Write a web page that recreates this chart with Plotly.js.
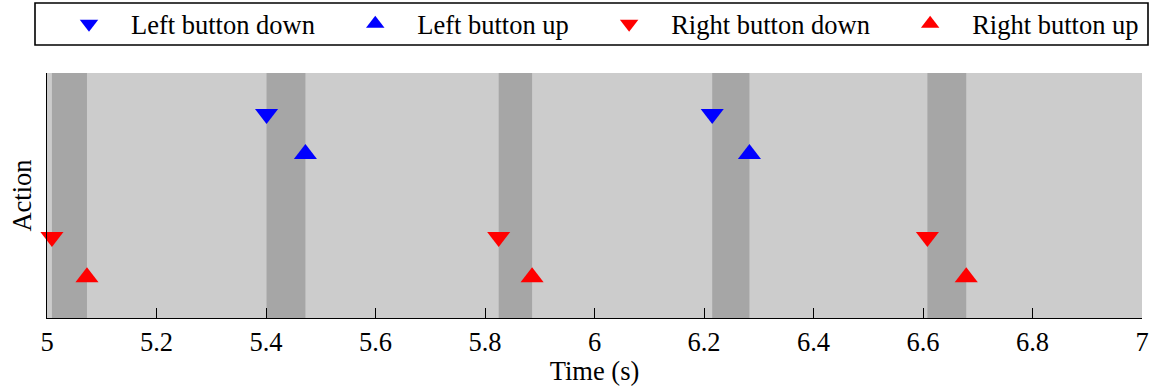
<!DOCTYPE html>
<html><head><meta charset="utf-8">
<script src="https://cdn.plot.ly/plotly-3.0.1.min.js"></script>
<style>html,body{margin:0;padding:0;background:#fff}#chart{width:1155px;height:386px}</style>
</head><body><div id="chart"></div>
<script>
// ---- data ----
const seriesNames = ['Left button down', 'Left button up', 'Right button down', 'Right button up'];
const leftDownTimes = [5.401, 6.215];
const leftUpTimes = [5.472, 6.283];
const rightDownTimes = [5.009, 5.825, 6.608];
const rightUpTimes = [5.073, 5.886, 6.679];
// vertical level of each action row (axis is hidden, 0..1)
const actionLevels = [0.833, 0.669, 0.331, 0.166];
const xTickValues = [5, 5.2, 5.4, 5.6, 5.8, 6, 6.2, 6.4, 6.6, 6.8, 7];
const xTickLabels = ['5', '5.2', '5.4', '5.6', '5.8', '6', '6.2', '6.4', '6.6', '6.8', '7'];

// ---- styling ----
const FONT = 'Liberation Serif, Times New Roman, serif';
const FS = 26.5;
const NB = '\u00a0';
const seriesTimes = [leftDownTimes, leftUpTimes, rightDownTimes, rightUpTimes];
const seriesColors = ['#0000ff', '#0000ff', '#ff0000', '#ff0000'];
const seriesSymbols = ['triangle-down', 'triangle-up', 'triangle-down', 'triangle-up'];

const traces = seriesNames.map((name, i) => ({
  type: 'scatter', mode: 'markers',
  name: name + (i < seriesNames.length - 1 ? NB + NB : ''),
  x: seriesTimes[i],
  y: seriesTimes[i].map(() => actionLevels[i]),
  marker: {symbol: seriesSymbols[i], size: 20, color: seriesColors[i], line: {width: 0}},
  cliponaxis: false,
  hoverinfo: 'x'
}));

// pressed intervals (down -> up) as darker bands
const shapes = [];
function addBands(downs, ups) {
  downs.forEach((d, i) => shapes.push({
    type: 'rect', xref: 'x', yref: 'paper', x0: d, x1: ups[i], y0: 0, y1: 1,
    fillcolor: '#a6a6a6', line: {width: 0}, layer: 'below'
  }));
}
addBands(leftDownTimes, leftUpTimes);
addBands(rightDownTimes, rightUpTimes);

// legend frame (plot area: x 47..1142, y 73..318)
const PL = 47, PW = 1095, PT = 73, PH = 245;
const px = v => (v - PL) / PW;
const py = v => (PT + PH - v) / PH;
shapes.push({
  type: 'rect', xref: 'paper', yref: 'paper',
  x0: px(35), x1: px(1148), y0: py(45), y1: py(3),
  fillcolor: '#ffffff', line: {color: '#000', width: 1.6}, layer: 'above'
});

const layout = {
  width: 1155, height: 386,
  margin: {l: PL, r: 1155 - PL - PW, t: PT, b: 386 - PT - PH, autoexpand: false},
  paper_bgcolor: '#ffffff', plot_bgcolor: '#cccccc',
  font: {family: FONT, size: FS, color: '#000'},
  showlegend: true,
  legend: {
    orientation: 'h', x: px(47), xanchor: 'left', y: py(24), yanchor: 'middle',
    bgcolor: 'rgba(0,0,0,0)', borderwidth: 0,
    itemwidth: 74, font: {family: FONT, size: FS, color: '#000'},
    tracegroupgap: 0
  },
  xaxis: {
    range: [5, 7], tickmode: 'array', tickvals: xTickValues, ticktext: xTickLabels,
    ticks: 'inside', ticklen: 10, tickwidth: 1, tickcolor: '#000',
    showline: true, linecolor: '#000', linewidth: 1, mirror: false,
    showgrid: false, zeroline: false,
    tickfont: {family: FONT, size: FS, color: '#000'},
    title: {text: 'Time (s)', font: {family: FONT, size: FS, color: '#000'}, standoff: 4},
    automargin: false, fixedrange: true
  },
  yaxis: {
    range: [0, 1], showticklabels: false, ticks: '',
    showline: true, linecolor: '#000', linewidth: 1,
    showgrid: false, zeroline: false,
    title: {text: 'Action', font: {family: FONT, size: FS, color: '#000'}, standoff: 6},
    automargin: false, fixedrange: true
  },
  shapes: shapes
};

Plotly.newPlot('chart', traces, layout, {displayModeBar: false, staticPlot: true});
</script>
</body></html>
